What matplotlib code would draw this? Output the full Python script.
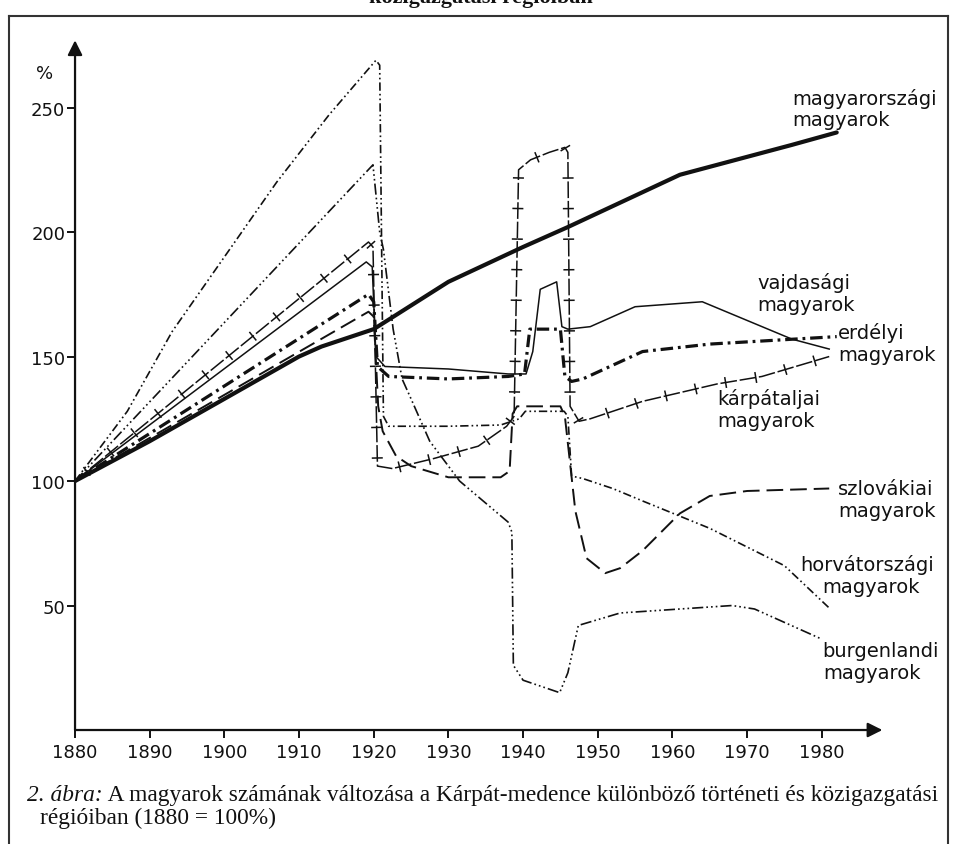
import numpy as np
import matplotlib.pyplot as plt
import matplotlib.patheffects as pe
from matplotlib.lines import Line2D

plt.rcParams['font.family'] = ['DejaVu Sans']
plt.rcParams['lines.scale_dashes'] = False

# --- adatok (1880 = 100%) ---
ev_mo = [1880, 1890, 1900, 1910, 1913, 1920, 1930, 1940, 1946, 1956, 1961, 1976, 1982]
mo = [100, 116, 133, 150, 154, 161, 180, 194, 202, 216, 223, 235, 240]

ev_vajd = [1880, 1919, 1919.8, 1920.3, 1921.5, 1930, 1938, 1940.4, 1941.3, 1942.3, 1944.5,
           1945.2, 1946, 1949, 1955, 1964, 1976, 1981]
vajd = [100, 188, 186, 150, 146, 145, 143, 143, 152, 177, 180, 162, 161, 162, 170, 172, 157, 153]

ev_erd = [1880, 1919.3, 1920, 1920.5, 1922, 1930, 1938, 1940.2, 1940.9, 1945, 1945.6,
          1946.5, 1948, 1956, 1965, 1982]
erd = [100, 175, 172, 146, 142, 141, 142, 143, 161, 161, 142, 140, 141, 152, 155, 158]

ev_karp = [1880, 1919.3, 1919.9, 1920.5, 1922.5, 1928, 1934, 1937.8, 1938.8, 1939.4,
           1941, 1943.5, 1945.6, 1946, 1946.3, 1947.5, 1949, 1956, 1966, 1972, 1981]
karp = [100, 196, 194, 106, 105, 109, 114, 122, 126, 225, 229, 232, 234, 232, 130, 124,
        125, 132, 139, 142, 150]

ev_szlov = [1880, 1919.3, 1920, 1920.6, 1921.2, 1923, 1925, 1930, 1937, 1938.2, 1938.6,
            1939.2, 1945, 1945.6, 1947, 1948.5, 1951, 1953, 1956, 1961, 1965, 1970, 1981]
szlov = [100, 168, 166, 130, 120, 110, 106, 101.5, 101.5, 104, 127, 130, 130, 126, 88,
         69, 63, 65, 72, 87, 94, 96, 97]

ev_horv = [1880, 1887, 1893, 1900, 1907, 1914, 1920.3, 1920.8, 1921.3, 1922, 1930, 1937,
           1939.5, 1940.3, 1945.5, 1946, 1946.5, 1948, 1952, 1956, 1965, 1975, 1981]
horv = [100, 128, 160, 190, 220, 247, 269, 267, 126, 122, 122, 122.5, 125, 128, 128, 126,
        102, 101, 97, 92, 81, 66, 49]

ev_burg = [1880, 1919.9, 1920.3, 1920.8, 1921.3, 1922.6, 1923.8, 1925, 1927.5, 1931.5,
           1938, 1938.5, 1938.7, 1940, 1944.9, 1946, 1947.4, 1953, 1968, 1971, 1980]
burg = [100, 227, 215, 200, 193, 161, 141, 133, 116, 100, 83.5, 79.5, 26, 20, 15, 23, 42,
        47, 50, 48.6, 36.5]

# feliratok soronkent: (szoveg, x ev, y %)
cimkek = [
    ('magyarországi', 1976.0, 254.0), ('magyarok', 1976.0, 245.0),
    ('vajdasági', 1971.4, 180.0), ('magyarok', 1971.3, 171.0),
    ('erdélyi', 1982.2, 160.0), ('magyarok', 1982.2, 151.0),
    ('kárpátaljai', 1966.0, 133.5), ('magyarok', 1966.0, 124.5),
    ('szlovákiai', 1982.2, 97.0), ('magyarok', 1982.2, 88.0),
    ('horvátországi', 1977.1, 66.5), ('magyarok', 1980.1, 57.5),
    ('burgenlandi', 1980.0, 32.0), ('magyarok', 1980.2, 23.0),
]

xticks = list(range(1880, 1990, 10))
yticks = [50, 100, 150, 200, 250]

ink = '#111111'

fig = plt.figure(figsize=(9.57, 8.45), dpi=100)
ax = fig.add_axes([0.0784, 0.1349, 0.8466, 0.8162])
ax.set_xlim(1880, 1988.5)
ax.set_ylim(0, 277)

ax.plot(ev_mo, mo, color=ink, lw=3.0, solid_capstyle='round', solid_joinstyle='round')
ax.plot(ev_vajd, vajd, color=ink, lw=1.1)
ax.plot(ev_erd, erd, color=ink, lw=2.3, dashes=(9, 3.5, 2, 3.5))
ax.plot(ev_karp, karp, color=ink, lw=1.1, dashes=(12, 2),
        path_effects=[pe.Normal(),
                      pe.TickedStroke(spacing=22, angle=90, length=0.18, linewidth=1.1),
                      pe.TickedStroke(spacing=22, angle=-90, length=0.18, linewidth=1.1)])
ax.plot(ev_szlov, szlov, color=ink, lw=1.4, dashes=(12, 5))
ax.plot(ev_horv, horv, color=ink, lw=1.2, dashes=(6, 2.2, 1.2, 2.2, 1.2, 2.2))
ax.plot(ev_burg, burg, color=ink, lw=1.2, dashes=(8, 2.2, 1.2, 2.2, 1.2, 2.2, 1.2, 2.2))

for szoveg, x, y in cimkek:
    ax.text(x, y, szoveg, fontsize=14, color=ink, ha='left', va='center')

# tengelyek nyillal
for s in ax.spines.values():
    s.set_visible(False)
ax.annotate('', xy=(0, 1.0), xytext=(0, 0), xycoords='axes fraction',
            arrowprops=dict(arrowstyle='-|>', color=ink, lw=1.6, mutation_scale=22,
                            shrinkA=0, shrinkB=0))
ax.annotate('', xy=(0.9965, 0), xytext=(0, 0), xycoords='axes fraction',
            arrowprops=dict(arrowstyle='-|>', color=ink, lw=1.6, mutation_scale=22,
                            shrinkA=0, shrinkB=0))

ax.set_xticks(xticks)
ax.set_yticks(yticks)
ax.tick_params(axis='both', direction='out', color=ink, labelcolor=ink,
               labelsize=13, width=1.4)
ax.tick_params(axis='y', length=6, pad=1)
ax.tick_params(axis='x', length=6, pad=3)
ax.text(-0.037, 0.953, '%', transform=ax.transAxes, fontsize=13, color=ink,
        ha='center', va='center')

# keret
fig.add_artist(Line2D([9 / 957, 9 / 957], [0, 1 - 17 / 845], color='#333333', lw=1.5))
fig.add_artist(Line2D([9 / 957, 948 / 957], [1 - 17 / 845, 1 - 17 / 845], color='#333333', lw=1.5))
fig.add_artist(Line2D([948 / 957, 948 / 957], [0, 1 - 17 / 845], color='#333333', lw=1.5))

# levagott cim
fig.text(0.503, 1 - 3 / 845, 'közigazgatási régióiban', fontsize=16, fontweight='bold',
         family='Liberation Serif', ha='center', va='baseline', color=ink)

# abrafelirat
t1 = fig.text(27 / 957, 1 - 806 / 845, '2. ábra:', fontsize=16.8, family='Liberation Serif',
              style='italic', ha='left', va='bottom', color=ink)
ax.annotate(' A magyarok számának változása a Kárpát-medence különböző történeti és közigazgatási',
            xy=(1, 0), xycoords=t1, fontsize=16.8, family='Liberation Serif',
            ha='left', va='bottom', color=ink, annotation_clip=False)
fig.text(40 / 957, 1 - 829 / 845, 'régióiban (1880 = 100%)', fontsize=16.8,
         family='Liberation Serif', ha='left', va='bottom', color=ink)

fig.savefig('out.png', dpi=100)
